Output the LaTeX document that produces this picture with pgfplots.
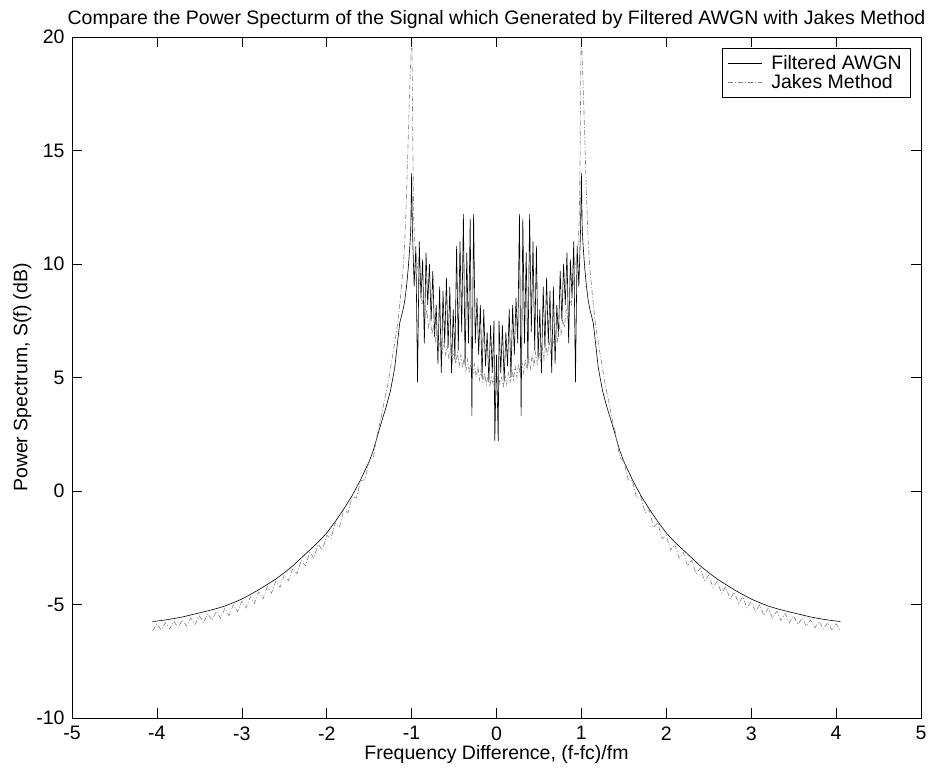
\documentclass[border=0pt]{standalone}
\usepackage{pgfplots}
\pgfplotsset{compat=1.18}
\usepackage{fontspec}
\setmainfont{Liberation Sans}
\begin{document}
\begin{tikzpicture}
\useasboundingbox (-72pt,-51pt) rectangle (862pt,718pt);
\begin{axis}[
  at={(0pt,0pt)}, anchor=south west,
  width=849pt, height=681pt, scale only axis,
  xmin=-5, xmax=5, ymin=-10, ymax=20,
  xtick={-5,-4,...,5}, ytick={-10,-5,...,20},
  tick align=inside, major tick length=10pt,
  every tick/.style={black, line width=0.6pt},
  axis line style={line width=0.6pt},
  /pgf/number format/assume math mode=true,
  tick label style={font=\fontsize{19.5}{22}\selectfont},
  xticklabel style={yshift=-5pt},
  yticklabel style={xshift=-4pt},
  label style={font=\fontsize{19.5}{22}\selectfont},
  title style={font=\fontsize{19.5}{22}\selectfont, yshift=-1pt},
  title={Compare the Power Specturm of the Signal which Generated by Filtered AWGN with Jakes Method},
  xlabel={Frequency Difference, (f-fc)/fm},
  ylabel={Power Spectrum, S(f) (dB)},
  xlabel style={yshift=2pt},
  ylabel style={yshift=-2pt},
  legend style={at={(0.987,0.984)}, anchor=north east, draw=black, fill=white,
    font=\fontsize{19.5}{22}\selectfont, inner xsep=6pt, inner ysep=5pt, row sep=0pt, column sep=7pt},
  legend cell align=left,
  legend image code/.code={\draw[#1] (0pt,0pt) -- (34pt,0pt);},
]
\addplot[black, line width=0.6pt] coordinates {
(-4.05,-5.75) (-4.00,-5.73) (-3.90,-5.68) (-3.80,-5.62) (-3.70,-5.55) (-3.60,-5.46) (-3.50,-5.37) (-3.40,-5.28) (-3.30,-5.18) (-3.20,-5.07) (-3.10,-4.92) (-3.00,-4.76) (-2.90,-4.56) (-2.80,-4.35) (-2.70,-4.12) (-2.60,-3.88) (-2.50,-3.6) (-2.40,-3.3) (-2.30,-2.95) (-2.20,-2.6) (-2.10,-2.25) (-2.00,-1.85) (-1.90,-1.35) (-1.80,-0.8) (-1.70,-0.2) (-1.60,0.5) (-1.50,1.3) (-1.45,1.8) (-1.37,2.85) (-1.30,3.7) (-1.25,4.4) (-1.20,5.4) (-1.14,7.4) (-1.10,8.0) (-1.08,8.4) (-1.06,9.0) (-1.04,9.8) (-1.02,10.8) (-1.01,11.5) (-1.00,14.0)
(-0.99,11.5) (-0.97,9.0) (-0.95,10.8) (-0.93,4.8) (-0.91,11.0) (-0.89,8.5) (-0.87,10.2) (-0.85,6.5) (-0.83,10.5) (-0.81,8.2) (-0.79,10.0) (-0.77,7.5) (-0.75,9.7) (-0.73,6.8) (-0.71,8.2) (-0.69,5.6) (-0.67,9.0) (-0.65,5.2) (-0.63,8.8) (-0.61,6.5) (-0.59,9.4) (-0.57,6.3) (-0.55,9.0) (-0.53,5.2) (-0.51,8.0) (-0.49,5.8) (-0.47,10.8) (-0.45,6.2) (-0.43,11.0) (-0.41,7.0) (-0.39,12.2) (-0.37,5.5) (-0.35,10.5) (-0.33,6.5) (-0.31,12.0) (-0.29,3.3) (-0.27,12.2) (-0.25,6.5) (-0.23,8.5) (-0.21,6.0) (-0.19,8.2) (-0.17,5.0) (-0.15,8.0) (-0.13,5.5) (-0.11,7.0) (-0.09,4.8) (-0.07,7.3) (-0.05,5.2) (-0.03,7.5) (-0.02,2.2)
(0,6.0) (0.02,2.2) (0.03,7.5) (0.05,5.2) (0.07,7.3) (0.09,4.8) (0.11,7.0) (0.13,5.5) (0.15,8.0) (0.17,5.0) (0.19,8.2) (0.21,6.0) (0.23,8.5) (0.25,6.5) (0.27,12.2) (0.29,3.3) (0.31,12.0) (0.33,6.5) (0.35,10.5) (0.37,5.5) (0.39,12.2) (0.41,7.0) (0.43,11.0) (0.45,6.2) (0.47,10.8) (0.49,5.8) (0.51,8.0) (0.53,5.2) (0.55,9.0) (0.57,6.3) (0.59,9.4) (0.61,6.5) (0.63,8.8) (0.65,5.2) (0.67,9.0) (0.69,5.6) (0.71,8.2) (0.73,6.8) (0.75,9.7) (0.77,7.5) (0.79,10.0) (0.81,8.2) (0.83,10.5) (0.85,6.5) (0.87,10.2) (0.89,8.5) (0.91,11.0) (0.93,4.8) (0.95,10.8) (0.97,9.0) (0.99,11.5)
(1.00,14.0) (1.01,11.5) (1.02,10.8) (1.04,9.8) (1.06,9.0) (1.08,8.4) (1.10,8.0) (1.14,7.4) (1.20,5.4) (1.25,4.4) (1.30,3.7) (1.37,2.85) (1.45,1.8) (1.50,1.3) (1.60,0.5) (1.70,-0.2) (1.80,-0.8) (1.90,-1.35) (2.00,-1.85) (2.10,-2.25) (2.20,-2.6) (2.30,-2.95) (2.40,-3.3) (2.50,-3.6) (2.60,-3.88) (2.70,-4.12) (2.80,-4.35) (2.90,-4.56) (3.00,-4.76) (3.10,-4.92) (3.20,-5.07) (3.30,-5.18) (3.40,-5.28) (3.50,-5.37) (3.60,-5.46) (3.70,-5.55) (3.80,-5.62) (3.90,-5.68) (4.00,-5.73) (4.05,-5.75)
};
\addlegendentry{Filtered AWGN}
\addplot[gray, line width=0.6pt, dash pattern=on 5pt off 2pt on 1pt off 2pt] coordinates {
(-4.05,-6.15) (-4.00,-5.85) (-3.95,-6.12) (-3.90,-5.8) (-3.85,-6.08) (-3.80,-5.75) (-3.75,-6.02) (-3.70,-5.68) (-3.65,-5.95) (-3.60,-5.6) (-3.55,-5.88) (-3.50,-5.5) (-3.45,-5.8) (-3.40,-5.4) (-3.35,-5.7) (-3.30,-5.3) (-3.25,-5.6) (-3.20,-5.17) (-3.15,-5.48) (-3.10,-5.02) (-3.05,-5.32) (-3.00,-4.86) (-2.95,-5.15) (-2.90,-4.66) (-2.85,-4.95) (-2.80,-4.45) (-2.75,-4.75) (-2.70,-4.22) (-2.65,-4.5) (-2.60,-3.98) (-2.55,-4.25) (-2.50,-3.7) (-2.45,-3.95) (-2.40,-3.4) (-2.35,-3.65) (-2.30,-3.05) (-2.25,-3.3) (-2.20,-2.7) (-2.15,-2.95) (-2.10,-2.35) (-2.05,-2.6) (-2.00,-1.95) (-1.95,-2.1) (-1.90,-1.4) (-1.85,-1.6) (-1.80,-0.85) (-1.75,-0.95) (-1.70,-0.25) (-1.65,-0.3) (-1.60,0.45) (-1.55,0.5) (-1.50,1.3) (-1.45,1.5) (-1.40,2.6) (-1.36,3.2) (-1.32,4.0) (-1.28,4.7) (-1.24,5.6) (-1.20,6.5) (-1.16,7.5) (-1.13,8.6) (-1.10,9.8) (-1.08,11.0) (-1.06,13.0) (-1.04,15.5) (-1.02,18.0) (-1.005,19.5)
(-0.995,19.5) (-0.985,15.0) (-0.975,12.0) (-0.96,10.8) (-0.94,10.2) (-0.92,9.6) (-0.90,9.0) (-0.88,8.2) (-0.86,8.5) (-0.84,7.6) (-0.82,8.0) (-0.80,7.2) (-0.78,7.6) (-0.76,6.9) (-0.74,7.3) (-0.72,6.6) (-0.70,7.0) (-0.68,6.3) (-0.66,6.8) (-0.64,6.1) (-0.62,6.6) (-0.60,6.0) (-0.58,6.4) (-0.56,5.8) (-0.54,6.3) (-0.52,5.7) (-0.50,6.2) (-0.48,5.6) (-0.46,6.1) (-0.44,5.5) (-0.42,6.0) (-0.40,5.4) (-0.38,5.9) (-0.36,5.3) (-0.34,5.8) (-0.32,5.2) (-0.30,5.7) (-0.28,5.1) (-0.26,5.6) (-0.24,5.0) (-0.22,5.5) (-0.20,4.9) (-0.18,5.4) (-0.16,4.8) (-0.14,5.2) (-0.12,4.7) (-0.10,5.1) (-0.08,4.6) (-0.06,5.0) (-0.04,4.7) (-0.02,5.3)
(0,4.6) (0.02,5.3) (0.04,4.7) (0.06,5.0) (0.08,4.6) (0.10,5.1) (0.12,4.7) (0.14,5.2) (0.16,4.8) (0.18,5.4) (0.20,4.9) (0.22,5.5) (0.24,5.0) (0.26,5.6) (0.28,5.1) (0.30,5.7) (0.32,5.2) (0.34,5.8) (0.36,5.3) (0.38,5.9) (0.40,5.4) (0.42,6.0) (0.44,5.5) (0.46,6.1) (0.48,5.6) (0.50,6.2) (0.52,5.7) (0.54,6.3) (0.56,5.8) (0.58,6.4) (0.60,6.0) (0.62,6.6) (0.64,6.1) (0.66,6.8) (0.68,6.3) (0.70,7.0) (0.72,6.6) (0.74,7.3) (0.76,6.9) (0.78,7.6) (0.80,7.2) (0.82,8.0) (0.84,7.6) (0.86,8.5) (0.88,8.2) (0.90,9.0) (0.92,9.6) (0.94,10.2) (0.96,10.8) (0.975,12.0) (0.985,15.0) (0.995,19.5)
(1.005,19.5) (1.02,18.0) (1.04,15.5) (1.06,13.0) (1.08,11.0) (1.10,9.8) (1.13,8.6) (1.16,7.5) (1.20,6.5) (1.24,5.6) (1.28,4.7) (1.32,4.0) (1.36,3.2) (1.40,2.6) (1.45,1.5) (1.50,1.3) (1.55,0.5) (1.60,0.45) (1.65,-0.3) (1.70,-0.25) (1.75,-0.95) (1.80,-0.85) (1.85,-1.6) (1.90,-1.4) (1.95,-2.1) (2.00,-1.95) (2.05,-2.6) (2.10,-2.35) (2.15,-2.95) (2.20,-2.7) (2.25,-3.3) (2.30,-3.05) (2.35,-3.65) (2.40,-3.4) (2.45,-3.95) (2.50,-3.7) (2.55,-4.25) (2.60,-3.98) (2.65,-4.5) (2.70,-4.22) (2.75,-4.75) (2.80,-4.45) (2.85,-4.95) (2.90,-4.66) (2.95,-5.15) (3.00,-4.86) (3.05,-5.32) (3.10,-5.02) (3.15,-5.48) (3.20,-5.17) (3.25,-5.6) (3.30,-5.3) (3.35,-5.7) (3.40,-5.4) (3.45,-5.8) (3.50,-5.5) (3.55,-5.88) (3.60,-5.6) (3.65,-5.95) (3.70,-5.68) (3.75,-6.02) (3.80,-5.75) (3.85,-6.08) (3.90,-5.8) (3.95,-6.12) (4.00,-5.85) (4.05,-6.15)
};
\addlegendentry{Jakes Method}
\end{axis}
\end{tikzpicture}
\end{document}
